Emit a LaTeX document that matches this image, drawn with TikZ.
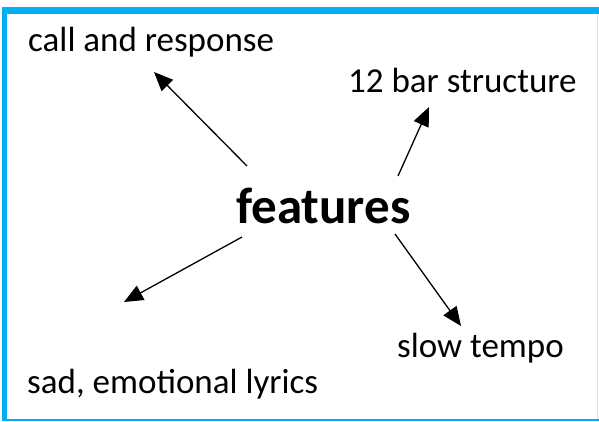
\documentclass[tikz,border=0pt]{standalone}
\usepackage{fontspec}
\setmainfont{Carlito}
\usetikzlibrary{arrows.meta}
\definecolor{frameblue}{RGB}{0,176,240}
\begin{document}
\begin{tikzpicture}[x=1pt,y=-1pt,
  lbl/.style={anchor=base west,inner sep=0pt,font=\fontsize{35}{42}\selectfont},
  hub/.style={anchor=base west,inner sep=0pt,font=\fontsize{51}{60}\selectfont\bfseries},
  arr/.style={line width=1.3pt,-{Triangle[length=19pt,width=16pt]}}]
\useasboundingbox (0,0) rectangle (599,422);
% frame
\fill[frameblue] (2,7) rectangle (599,14);
\fill[frameblue] (2,7) rectangle (7,421);
\fill[frameblue] (2,419) rectangle (599,421);
\fill[frameblue!25] (596.5,14) rectangle (597.8,419);
% texts
\node[lbl] (call) at (28,52) {call and response};
\node[lbl] (bar) at (348,93) {12 bar structure};
\node[lbl] (slow) at (397,357) {slow tempo};
\node[lbl] (sad) at (27,393) {sad, emotional lyrics};
\node[hub] (feat) at (236,223) {features};
% arrow ends
\coordinate (s1) at (247,166);
\coordinate (t1) at (154,72);
\coordinate (s2) at (398,176);
\coordinate (t2) at (429,107);
\coordinate (s3) at (242,237);
\coordinate (t3) at (124,302);
\coordinate (s4) at (395,234);
\coordinate (t4) at (461,326);
\draw[arr] (s1) -- (t1);
\draw[arr] (s2) -- (t2);
\draw[arr] (s3) -- (t3);
\draw[arr] (s4) -- (t4);
\end{tikzpicture}
\end{document}
